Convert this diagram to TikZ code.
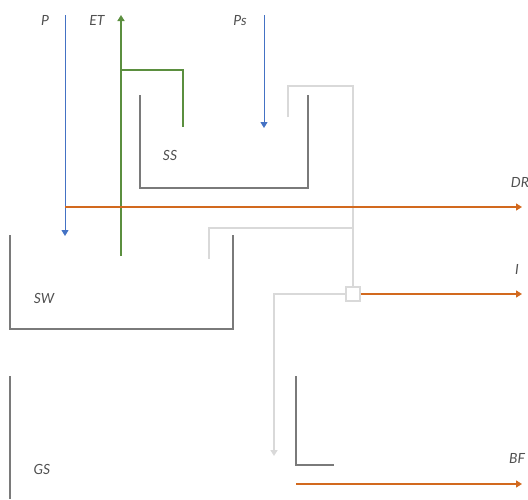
\documentclass[tikz,border=0pt]{standalone}
\usepackage{fontspec}
\setmainfont{Lato}
\usetikzlibrary{arrows.meta}
\definecolor{cblue}{HTML}{4472C4}
\definecolor{cgreen}{HTML}{5B8F3F}
\definecolor{corange}{HTML}{D2691E}
\definecolor{cdark}{HTML}{7A7A7A}
\definecolor{clight}{HTML}{D9D9D9}
\definecolor{ctext}{HTML}{505050}
\begin{document}
\begin{tikzpicture}[x=1pt,y=-1pt,
  lbl/.style={font=\fontsize{14}{14}\selectfont\itshape, text=ctext, inner sep=0pt},
  tipa/.style={-{Triangle[width=7pt,length=6pt]}},
  storage/.style={draw=cdark, line width=1.8pt},
  flowlight/.style={draw=clight, line width=1.8pt},
  flowblue/.style={draw=cblue, line width=1pt, tipa},
  flowgreen/.style={draw=cgreen, line width=1.6pt},
  floworange/.style={draw=corange, line width=1.4pt, tipa}]
\useasboundingbox (0,0) rectangle (528,499);
% labels
\node[lbl] (P) at (45,20) {P};
\node[lbl] (ET) at (97,20) {ET};
\node[lbl] (Ps) at (240,21) {Ps};
\node[lbl] (SS) at (170,155) {SS};
\node[lbl] (SW) at (44,298) {SW};
\node[lbl] (GS) at (42,469) {GS};
\node[lbl] (DR) at (520,182) {DR};
\node[lbl] (I) at (517,269) {I};
\node[lbl] (BF) at (517,458) {BF};
% coordinates
\coordinate (pTop) at (65,15);
\coordinate (pEnd) at (65,236);
\coordinate (etBot) at (121,256);
\coordinate (etTop) at (121,15);
\coordinate (etJ) at (121,70);
\coordinate (etR) at (183,70);
\coordinate (etRb) at (183,127);
\coordinate (psTop) at (264,15);
\coordinate (psEnd) at (264,128);
\coordinate (drS) at (65,207);
\coordinate (drE) at (522,207);
\coordinate (iE) at (522,294);
\coordinate (bfS) at (296,484);
\coordinate (bfE) at (522,484);
% storages
\draw[storage] (140,95) -- (140,188) -- (308,188) -- (308,95);
\draw[storage] (10,235) -- (10,329) -- (233,329) -- (233,235);
\draw[storage] (10,376) -- (10,499);
\draw[storage] (296,376) -- (296,465) -- (334,465);
% light flows
\node[draw=clight, line width=1.3pt, fill=white, minimum size=14pt, inner sep=0pt] (box) at (353,294) {};
\draw[flowlight] (288,117) -- (288,86) -- (353,86) -- (box.north);
\draw[flowlight] (353,228) -- (209,228) -- (209,259);
\draw[flowlight, tipa] (box.west) -- (274,294) -- (274,456);
% blue
\draw[flowblue] (pTop) -- (pEnd);
\draw[flowblue] (psTop) -- (psEnd);
% green
\draw[flowgreen, tipa] (etBot) -- (etTop);
\draw[flowgreen] (etJ) -- (etR) -- (etRb);
% orange
\draw[floworange] (drS) -- (drE);
\draw[floworange] (box.east) -- (iE);
\draw[floworange] (bfS) -- (bfE);
\end{tikzpicture}
\end{document}
